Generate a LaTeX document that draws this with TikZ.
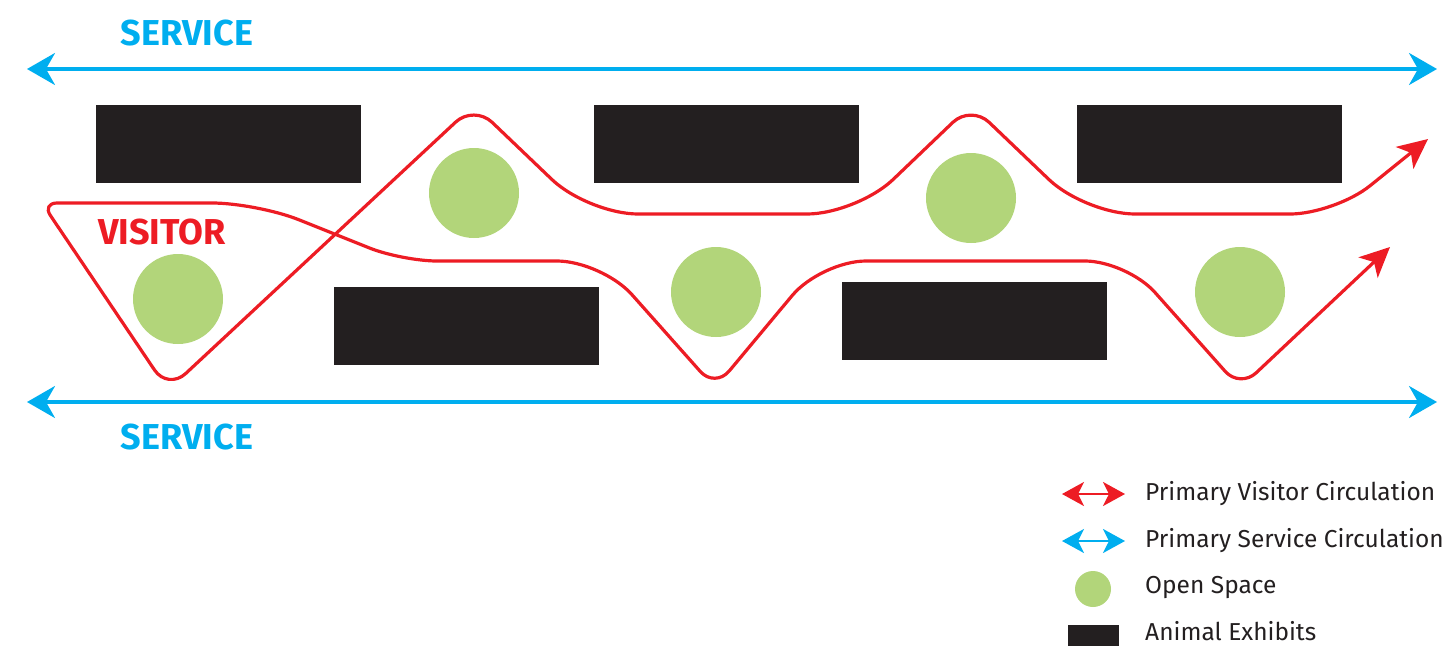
\documentclass[tikz,border=0pt]{standalone}
\usepackage{fontspec}
\setmainfont{Fira Sans}
\usetikzlibrary{arrows.meta}
\definecolor{svcblue}{HTML}{00AEEF}
\definecolor{visred}{HTML}{ED1C24}
\definecolor{opengreen}{HTML}{B2D57A}
\definecolor{exblack}{HTML}{231F20}
\tikzset{
  exhibit/.style={fill=exblack, draw=none, minimum width=265pt, minimum height=78pt, inner sep=0pt},
  openspace/.style={circle, fill=opengreen, draw=none, minimum size=90pt, inner sep=0pt},
  svcline/.style={draw=svcblue, line width=3.5pt, {Stealth[length=28pt,width=32pt,inset=9pt]}-{Stealth[length=28pt,width=32pt,inset=9pt]}},
  visline/.style={draw=visred, line width=3.2pt, line join=round},
  legsvc/.style={draw=svcblue, line width=2.5pt, {Stealth[length=22pt,width=24pt,inset=6pt]}-{Stealth[length=22pt,width=24pt,inset=6pt]}},
  legvis/.style={draw=visred, line width=2.5pt, {Stealth[length=22pt,width=24pt,inset=6pt]}-{Stealth[length=22pt,width=24pt,inset=6pt]}},
  bigtitle/.style={font=\fontsize{36}{36}\selectfont\bfseries, inner sep=0pt},
  legtext/.style={font=\fontsize{24.5}{24.5}\selectfont, text=exblack, anchor=west, inner sep=0pt}
}
\begin{document}
\begin{tikzpicture}[x=1pt,y=-1pt]
\useasboundingbox (0,0) rectangle (1447,646);

% service
\coordinate (sl1) at (27,69);
\coordinate (sr1) at (1437,69);
\coordinate (sl2) at (27,402);
\coordinate (sr2) at (1437,402);
\draw[svcline] (sl1) -- (sr1);
\draw[svcline] (sl2) -- (sr2);
\node[bigtitle, text=svcblue] (svtop) at (187,33) {SERVICE};
\node[bigtitle, text=svcblue] (svbot) at (187,437) {SERVICE};
\node[bigtitle, text=visred] (vis) at (162,232) {VISITOR};

% exhibits
\node[exhibit] (ex1) at (228.5,144) {};
\node[exhibit] (ex2) at (726.5,144) {};
\node[exhibit] (ex3) at (1209.5,144) {};
\node[exhibit] (ex4) at (466.5,326) {};
\node[exhibit] (ex5) at (974.5,321) {};

% open spaces
\node[openspace] (os1) at (178,299) {};
\node[openspace] (os2) at (474,193) {};
\node[openspace] (os3) at (716,292) {};
\node[openspace] (os4) at (971,198) {};
\node[openspace] (os5) at (1240,292) {};

% visitor path
\coordinate (Ltip) at (1390,247);
\coordinate (L7) at (1240,388);
\coordinate (L6) at (1127,261);
\coordinate (L5) at (821,261);
\coordinate (L4) at (715,388);
\coordinate (L3) at (602,261);
\coordinate (L2) at (402,261);
\coordinate (L1) at (257,203);
\coordinate (L0) at (42,203);
\coordinate (U1) at (168,390);
\coordinate (U2) at (474,105);
\coordinate (U3) at (588,214);
\coordinate (U4) at (857,214);
\coordinate (U5) at (971,105);
\coordinate (U6) at (1085,214);
\coordinate (U7) at (1335,214);
\coordinate (Utip) at (1428,139);
\draw[visline, {Stealth[length=30pt,width=28pt,inset=8pt]}-{Stealth[length=30pt,width=28pt,inset=8pt]}]
  (Ltip) [rounded corners=22pt] -- (L7) [rounded corners=42pt] -- (L6) [rounded corners=45pt] -- (L5)
  [rounded corners=22pt] -- (L4) [rounded corners=45pt] -- (L3) [rounded corners=35pt] -- (L2)
  [rounded corners=45pt] -- (L1) [rounded corners=15pt] -- (L0) [rounded corners=24pt] -- (U1)
  [rounded corners=25pt] -- (U2) [rounded corners=50pt] -- (U3) [rounded corners=50pt] -- (U4)
  [rounded corners=25pt] -- (U5) [rounded corners=50pt] -- (U6) [rounded corners=45pt] -- (U7)
  -- (Utip);

% legend
\coordinate (lv1) at (1062,494);
\coordinate (lv2) at (1125,494);
\coordinate (ls1) at (1062,541);
\coordinate (ls2) at (1125,541);
\draw[legvis] (lv1) -- (lv2);
\draw[legsvc] (ls1) -- (ls2);
\node[circle, fill=opengreen, minimum size=36pt, inner sep=0pt] (legos) at (1093,589) {};
\node[fill=exblack, minimum width=51pt, minimum height=21pt, inner sep=0pt] (legex) at (1093.5,635.5) {};
\node[legtext] (t1) at (1145,494) {Primary Visitor Circulation};
\node[legtext] (t2) at (1145,541) {Primary Service Circulation};
\node[legtext] (t3) at (1145,588) {Open Space};
\node[legtext] (t4) at (1145,631) {Animal Exhibits};
\end{tikzpicture}
\end{document}
